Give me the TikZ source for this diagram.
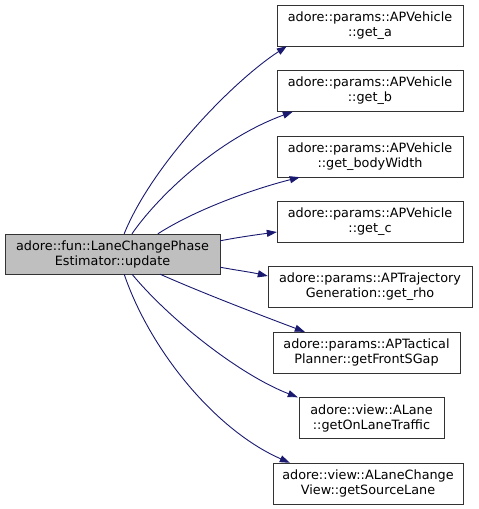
\documentclass[tikz,border=0pt]{standalone}
\usepackage{fontspec}
\setmainfont{DejaVu Sans}
\usepackage{xcolor}
\usetikzlibrary{arrows.meta}
\definecolor{edgeblue}{HTML}{191970}

\begin{document}
\begin{tikzpicture}[x=1pt, y=-1pt, font=\fontsize{12.8}{15}\selectfont,
	func/.style={draw=black!80, fill=white, minimum height=41pt, inner sep=0pt, align=center},
	call/.style={edgeblue, line width=0.9pt, -{Triangle[length=10pt,width=7pt]}}]
			\useasboundingbox (0,0) rectangle (479,509);
			% caller
			\node[func, fill=gray!50, minimum width=215pt, minimum height=40pt] (update) at (112.5,254)
			{adore::fun::LaneChangePhase\\Estimator::update};
			% callees
			\node[func, minimum width=186pt] (geta) at (370,25.5) {adore::params::APVehicle\\::get\_a};
			\node[func, minimum width=186pt] (getb) at (370,91) {adore::params::APVehicle\\::get\_b};
			\node[func, minimum width=186pt] (getbw) at (370,156.5) {adore::params::APVehicle\\::get\_bodyWidth};
			\node[func, minimum width=186pt] (getc) at (370,222) {adore::params::APVehicle\\::get\_c};
			\node[func, minimum width=204pt] (getrho) at (370,287) {adore::params::APTrajectory\\Generation::get\_rho};
			\node[func, minimum width=187pt] (getgap) at (366.5,352.5) {adore::params::APTactical\\Planner::getFrontSGap};
			\node[func, minimum width=145pt] (traffic) at (371.5,418) {adore::view::ALane\\::getOnLaneTraffic};
			\node[func, minimum width=190pt] (srclane) at (368,483.5) {adore::view::ALaneChange\\View::getSourceLane};
			% calls
			\draw[call] (update.60) .. controls (152,165) and (232,82) .. ([xshift=10pt]geta.south west);
			\draw[call] (update.46) .. controls (155,200) and (215,140) .. ([xshift=16pt]getb.south west);
			\draw[call] (update.24) .. controls (195,210) and (250,190) .. ([xshift=23pt]getbw.south west);
			\draw[call] (update.7) .. controls (240,237) and (255,235) .. ([yshift=-10pt]getc.west);
			\draw[call] (update.-7) .. controls (235,270) and (250,272) .. ([yshift=11pt]getrho.west);
			\draw[call] (update.-23) .. controls (200,292) and (260,315) .. ([xshift=32pt]getgap.north west);
			\draw[call] (update.-46) .. controls (170,320) and (240,375) .. ([xshift=-1pt]traffic.north west);
			\draw[call] (update.-60) .. controls (150,350) and (215,430) .. ([xshift=17pt]srclane.north west);
		\end{tikzpicture}
\end{document}
